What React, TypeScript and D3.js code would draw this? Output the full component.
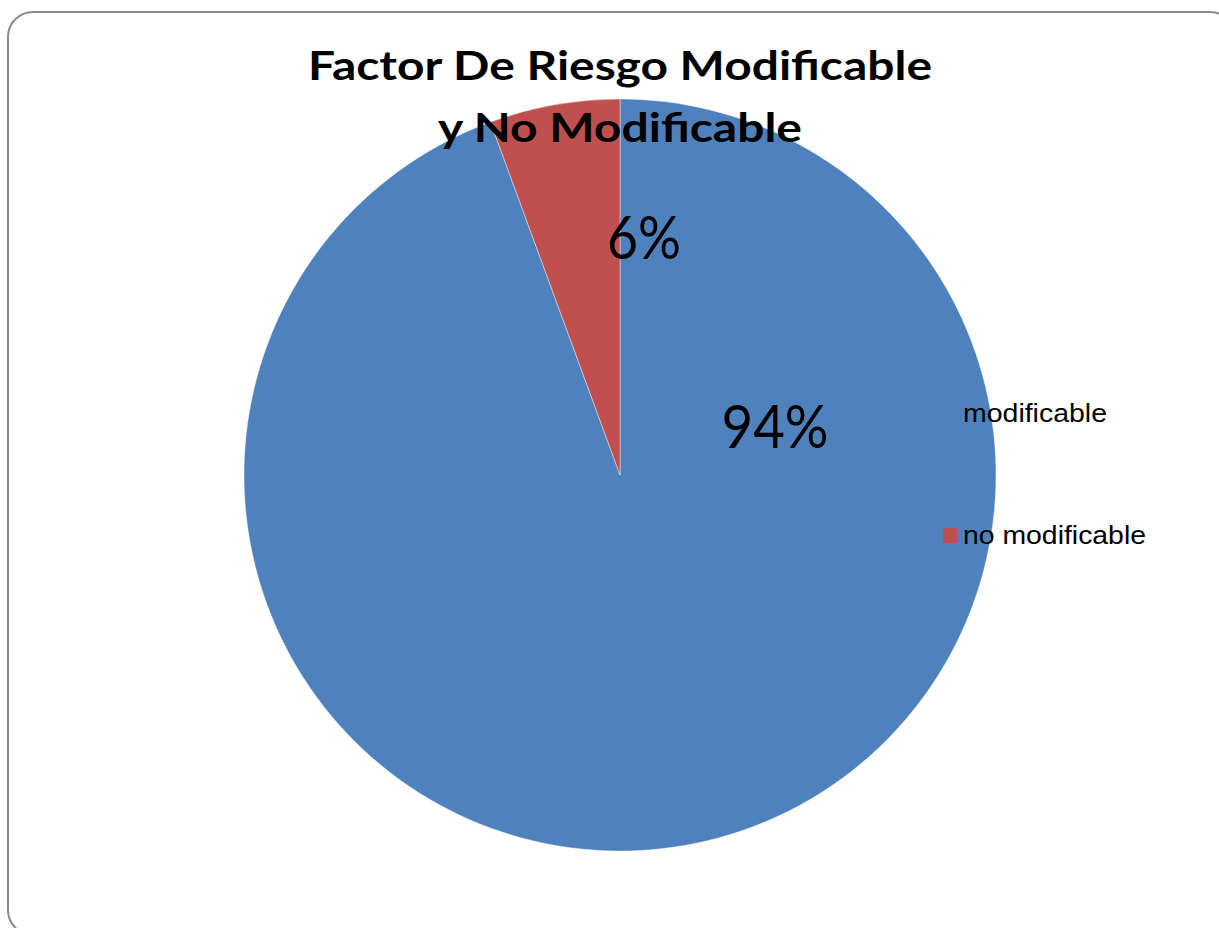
import React from "react";
import * as d3 from "d3";

const categories = ["modificable", "no modificable"];
const values = [94.4, 5.6];
const percentLabels = ["94%", "6%"];
const colors = ["#4F81BD", "#C0504D"];
const titleLines = ["Factor De Riesgo Modificable", "y No Modificable"];

const W = 1219;
const H = 928;

export default function App() {
  React.useEffect(() => {
    document.body.style.margin = "0";
    document.body.style.overflow = "hidden";
  }, []);

  const cx = 620;
  const cy = 475;
  const r = 376;

  const pie = d3
    .pie<number>()
    .sort(null)
    .value((d) => d);
  const arcs = pie(values);
  const arc = d3.arc<d3.PieArcDatum<number>>().innerRadius(0).outerRadius(r);

  // label offsets relative to pie centre (Excel-style best-fit placement)
  const labelPos = [
    { dx: 155, dy: -27, w: 107 },
    { dx: 24, dy: -216, w: 74 },
  ];

  const legendY = d3.scalePoint<string>().domain(categories).range([422, 544]);

  return (
    <svg
      width={W}
      height={H}
      style={{ position: "absolute", left: 0, top: 0, background: "#fff" }}
    >
      <rect
        x={8}
        y={12}
        width={1227}
        height={923}
        rx={25}
        ry={25}
        fill="#fff"
        stroke="#8a8a8a"
        strokeWidth={2}
      />
      <g transform={`translate(${cx},${cy})`}>
        {arcs.map((a, i) => (
          <path
            key={i}
            d={arc(a) || ""}
            fill={colors[i]}
            stroke="#ffffff"
            strokeOpacity={0.5}
            strokeWidth={0.8}
          />
        ))}
        {arcs.map((a, i) => (
          <text
            key={"l" + i}
            x={labelPos[i].dx}
            y={labelPos[i].dy}
            textAnchor="middle"
            fontFamily="Lato, 'Open Sans', sans-serif"
            fontSize={60}
            textLength={labelPos[i].w}
            lengthAdjust="spacingAndGlyphs"
            fill="#000"
          >
            {percentLabels[i]}
          </text>
        ))}
      </g>
      {/* legend markers and text (drawn over pie) */}
      {categories.map((c, i) => (
        <rect
          key={"m" + c}
          x={943}
          y={(legendY(c) as number) - 16}
          width={14}
          height={15}
          fill={colors[i]}
        />
      ))}
      {categories.map((c, i) => (
        <text
          key={"t" + c}
          x={963}
          y={legendY(c) as number}
          fontFamily="'Liberation Sans', Arial, sans-serif"
          fontSize={25}
          textLength={i === 0 ? 144 : 183}
          lengthAdjust="spacingAndGlyphs"
          fill="#000"
        >
          {c}
        </text>
      ))}
      {titleLines.map((t, i) => (
        <text
          key={"title" + i}
          x={620}
          y={80 + i * 62}
          textAnchor="middle"
          fontFamily="Lato, 'Open Sans', sans-serif"
          fontWeight="bold"
          fontSize={40}
          textLength={i === 0 ? 624 : 364}
          lengthAdjust="spacingAndGlyphs"
          fill="#000"
        >
          {t}
        </text>
      ))}
    </svg>
  );
}
